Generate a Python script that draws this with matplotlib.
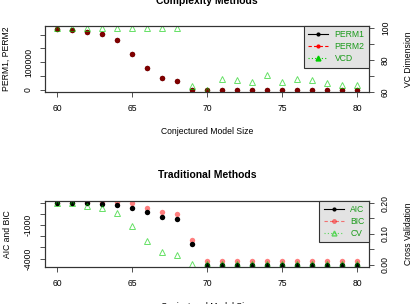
import matplotlib
matplotlib.use('Agg')
import matplotlib.pyplot as plt
from matplotlib.lines import Line2D

plt.rcParams['font.family'] = ['Liberation Sans', 'DejaVu Sans']

# conjectured model sizes
sizes = [60, 61, 62, 63, 64, 65, 66, 67, 68, 69, 70,
         71, 72, 73, 74, 75, 76, 77, 78, 79, 80]

# complexity methods
perm1 = [220200, 217700, 208300, 203200, 179400, 131000, 78300, 42200, 33600, 0, 0,
         0, 0, 0, 0, 0, 0, 0, 0, 0, 0]
perm2 = [219800, 217200, 207800, 202600, 178800, 130500, 77800, 41800, 33200, 0, 0,
         0, 0, 0, 0, 0, 0, 0, 0, 0, 0]
vcd = [100, 100, 100, 100, 100, 100, 100, 100, 100, 63.6, 61.3,
       68.3, 67.5, 66.5, 70.4, 66.2, 68.3, 67.3, 65.6, 64.4, 64.4]

# traditional methods
aic = [960, 960, 960, 925, 781, 566, 206, -242, -422, -2720, -4590,
       -4590, -4585, -4585, -4580, -4580, -4580, -4575, -4575, -4570, -4570]
bic = [1000, 1010, 1050, 1060, 1077, 960, 539, 153, -27, -2334, -4210,
       -4205, -4200, -4200, -4195, -4195, -4190, -4190, -4185, -4185, -4180]
cv = [0.199, 0.199, 0.190, 0.185, 0.167, 0.125, 0.077, 0.041, 0.032, 0.003, 0.001,
      0.001, 0.001, 0.001, 0.001, 0.001, 0.001, 0.001, 0.001, 0.001, 0.001]

W, H = 416, 304
fig = plt.figure(figsize=(W / 100, H / 100), dpi=100)

FS = 6.2
RED = '#FF0000'
GREEN = '#00CD00'
TXTGREEN = '#1A9A1A'
GREY = '#333333'


def make_axes(top_px, bottom_px):
    left, right = 45, 369
    return fig.add_axes([left / W, 1 - bottom_px / H, (right - left) / W,
                         (bottom_px - top_px) / H])


def style(ax):
    for s in ax.spines.values():
        s.set_color(GREY)
        s.set_linewidth(0.8)
    ax.tick_params(length=3.6, width=0.6, color=GREY, labelsize=FS, pad=5)
    ax.tick_params(axis='y', labelrotation=90)
    for lab in ax.get_yticklabels():
        lab.set_va('center')


def add_legend(ax, handles, labels):
    leg = ax.legend(handles, labels, loc='upper right', fontsize=FS,
                    frameon=True, fancybox=False, borderaxespad=0,
                    handlelength=2.3, handletextpad=0.8, labelspacing=0.35,
                    borderpad=0.5)
    leg.get_frame().set_facecolor('#E3E3E3')
    leg.get_frame().set_edgecolor(GREY)
    leg.get_frame().set_linewidth(0.8)
    leg.get_frame().set_alpha(1)
    for t in leg.get_texts():
        t.set_color(TXTGREEN)
    return leg


# ---- top panel: complexity methods ----
ax1 = make_axes(26, 92.3)
ax1.plot(sizes, perm1, 'o', color='black', ms=3.9, mec='none')
ax1.plot(sizes, perm2, 'o', color=RED, alpha=0.5, ms=3.9, mec='none')
ax1.set_xlim(59.2, 80.8)
ax1.set_ylim(-8300, 231000)
ax1.set_xticks([60, 65, 70, 75, 80])
ax1.set_yticks([0, 50000, 100000, 150000, 200000])
ax1.set_yticklabels(['0', '', '100000', '', ''])
ax1.set_ylabel('PERM1, PERM2', fontsize=FS)
ax1.yaxis.set_label_coords(-0.105, 0.5)
ax1.set_xlabel('Conjectured Model Size', fontsize=FS)
ax1.xaxis.set_label_coords(0.5, -0.523)
ax1.set_title('Complexity Methods', fontsize=7.5, fontweight='bold', pad=16)
style(ax1)

ax1r = ax1.twinx()
ax1r.plot(sizes, vcd, '^', mfc='none', mec=GREEN, alpha=0.6, ms=4.5, mew=0.7)
ax1r.set_ylim(59.8, 101.4)
ax1r.set_yticks([60, 70, 80, 90, 100])
ax1r.set_yticklabels(['60', '', '80', '', '100'])
ax1r.set_ylabel('VC Dimension', fontsize=FS)
ax1r.yaxis.set_label_coords(1.108, 0.5)
style(ax1r)

h1 = [Line2D([], [], color='black', lw=0.8, marker='o', ms=3, mec='none'),
      Line2D([], [], color=RED, lw=0.8, ls=(0, (3, 2)), marker='o', ms=3, mec='none'),
      Line2D([], [], color=GREEN, lw=0.8, ls=(0, (1, 2)), marker='^', ms=3.5, mec=GREEN)]
add_legend(ax1r, h1, ['PERM1', 'PERM2', 'VCD'])

# ---- bottom panel: traditional methods ----
ax2 = make_axes(200.7, 267)
ax2.plot(sizes, bic, 'o', color=RED, alpha=0.5, ms=3.9, mec='none')
ax2.plot(sizes, aic, 'o', color='black', ms=3.9, mec='none')
ax2.set_xlim(59.2, 80.8)
ax2.set_ylim(-4758, 1194)
ax2.set_xticks([60, 65, 70, 75, 80])
ax2.set_yticks([-4000, -3000, -2000, -1000, 0, 1000])
ax2.set_yticklabels(['-4000', '', '', '-1000', '', ''])
ax2.set_ylabel('AIC and BIC', fontsize=FS)
ax2.yaxis.set_label_coords(-0.102, 0.5)
ax2.set_xlabel('Conjectured Model Size', fontsize=FS)
ax2.xaxis.set_label_coords(0.5, -0.523)
ax2.set_title('Traditional Methods', fontsize=7.5, fontweight='bold', pad=16)
style(ax2)

ax2r = ax2.twinx()
ax2r.plot(sizes, cv, '^', mfc='none', mec=GREEN, alpha=0.6, ms=4.5, mew=0.7)
ax2r.set_ylim(-0.0075, 0.2075)
ax2r.set_yticks([0, 0.05, 0.10, 0.15, 0.20])
ax2r.set_yticklabels(['0.00', '', '0.10', '', '0.20'])
ax2r.set_ylabel('Cross Validation', fontsize=FS)
ax2r.yaxis.set_label_coords(1.108, 0.5)
style(ax2r)

h2 = [Line2D([], [], color='black', lw=0.8, marker='o', ms=3, mec='none'),
      Line2D([], [], color=RED, lw=0.8, ls=(0, (3, 2)), marker='o', ms=3.5,
             mec='none', alpha=0.5),
      Line2D([], [], color=GREEN, lw=0.8, ls=(0, (1, 2)), marker='^', ms=3.5,
             mfc='none', mec=GREEN, alpha=0.6)]
add_legend(ax2r, h2, ['AIC', 'BIC', 'CV'])

fig.savefig('out.png', dpi=100)
